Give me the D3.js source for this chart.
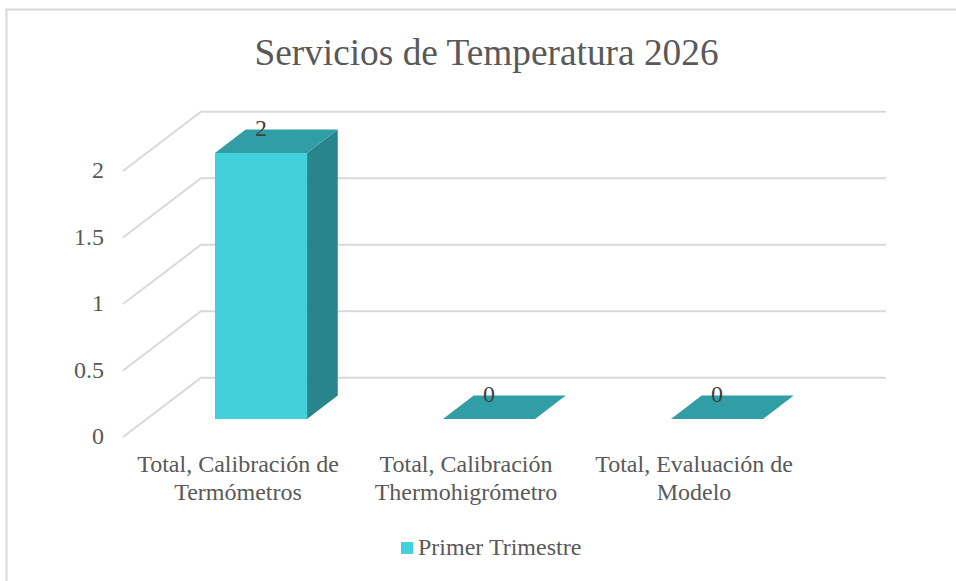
<!DOCTYPE html>
<html><head><meta charset="utf-8">
<script src="https://cdn.jsdelivr.net/npm/d3@7"></script>
<style>html,body{margin:0;padding:0;background:#fff}svg{display:block}text{font-family:"Liberation Serif",serif}</style>
</head><body><svg id="c" width="956" height="581"></svg>
<script>
const categories = ["Total, Calibración de Termómetros","Total, Calibración Thermohigrómetro","Total, Evaluación de Modelo"];
const categoryLines = [["Total, Calibración de","Termómetros"],["Total, Calibración","Thermohigrómetro"],["Total, Evaluación de","Modelo"]];
const values = [2,0,0];
const yTicks = [0,0.5,1,1.5,2];
const seriesName = "Primer Trimestre";
const chartTitle = "Servicios de Temperatura 2026";

const svg = d3.select("#c");
const y = d3.scaleLinear().domain([0,2]).range([437,171]);
const x = d3.scaleBand().domain(categories).range([123,807]).paddingInner(0.596).paddingOuter(0.298);
const wallDx = 78, wallDy = 59.3, wallEnd = 886;
const barDx = 24, barDy = 18, depthDx = 30.7, depthDy = 23.4;
const col = {front:"#41d0dc",top:"#319ea6",side:"#29858c",grid:"#d9d9d9",text:"#595959",label:"#404040"};

// frame
svg.append("path").attr("d","M6.5,581V9.5H956").attr("fill","none").attr("stroke",col.grid).attr("stroke-width",2);

// title
svg.append("text").attr("x",486.5).attr("y",65).attr("text-anchor","middle").attr("font-size",37.33).attr("fill",col.text).text(chartTitle);

// gridlines
const grid = svg.append("g").attr("fill","none").attr("stroke",col.grid).attr("stroke-width",2);
grid.selectAll("path").data(yTicks).join("path")
  .attr("d",d=>`M${x.range()[0]},${y(d)}L${x.range()[0]+wallDx},${y(d)-wallDy}H${wallEnd}`);

// y tick labels
svg.append("g").selectAll("text").data(yTicks).join("text")
  .attr("x",104).attr("y",d=>y(d)+7).attr("text-anchor","end").attr("font-size",24).attr("fill",col.text).text(d=>d);

// bars
const bars = svg.append("g").selectAll("g").data(categories.map((c,i)=>({c,v:values[i]}))).join("g");
const L = d=>x(d.c)+barDx, R = d=>L(d)+x.bandwidth(), B = y(0)-barDy, T = d=>y(d.v)-barDy;
bars.filter(d=>d.v>0).append("path").attr("fill",col.side)
  .attr("d",d=>`M${R(d)},${T(d)}l${depthDx},${-depthDy}V${B-depthDy}L${R(d)},${B}Z`);
bars.append("path").attr("fill",col.top)
  .attr("d",d=>`M${L(d)},${T(d)}l${depthDx},${-depthDy}H${R(d)+depthDx}L${R(d)},${T(d)}Z`);
bars.filter(d=>d.v>0).append("rect").attr("fill",col.front)
  .attr("x",L).attr("y",T).attr("width",x.bandwidth()).attr("height",d=>B-T(d));
bars.append("text").attr("x",d=>L(d)+x.bandwidth()/2).attr("y",d=>T(d)-17)
  .attr("text-anchor","middle").attr("font-size",24).attr("fill",col.label).text(d=>d.v);

// category labels
const cats = svg.append("g").selectAll("text").data(categories).join("text")
  .attr("text-anchor","middle").attr("font-size",24).attr("fill",col.text);
cats.selectAll("tspan").data((d,i)=>categoryLines[i]).join("tspan")
  .attr("x",function(){return x(this.parentNode.__data__)+x.bandwidth()/2+1;})
  .attr("y",(d,i)=>472+i*28).text(d=>d);

// legend
svg.append("rect").attr("x",401).attr("y",542).attr("width",12).attr("height",12).attr("fill",col.front);
svg.append("text").attr("x",418).attr("y",554.5).attr("font-size",24).attr("fill",col.text).text(seriesName);
</script></body></html>
